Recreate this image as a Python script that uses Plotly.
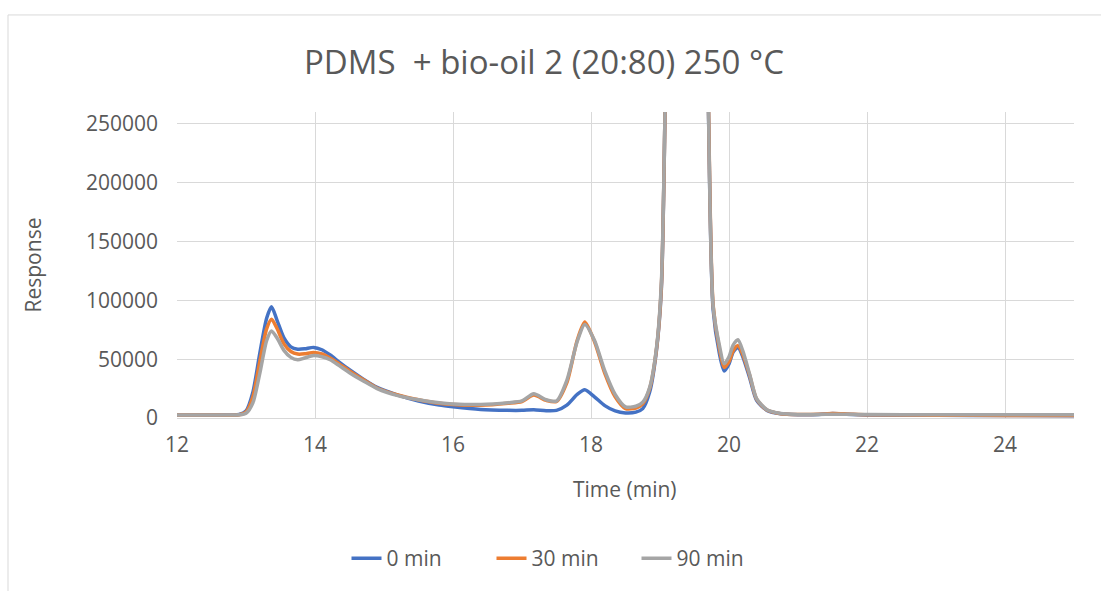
import plotly.graph_objects as go

time_min = [12.0, 12.5, 12.9, 13.0, 13.1, 13.2, 13.3, 13.37, 13.45, 13.55, 13.65, 13.75, 13.85,
            13.98, 14.1, 14.22, 14.35, 14.5, 14.7, 14.9, 15.2, 15.5, 15.8, 16.0, 16.4, 16.8,
            17.0, 17.17, 17.35, 17.5, 17.65, 17.8, 17.91, 18.05, 18.2, 18.35, 18.5, 18.65,
            18.75, 18.85, 18.95, 19.02, 19.07, 19.15, 19.3, 19.45, 19.6, 19.7, 19.77, 19.86,
            19.93, 20.0, 20.06, 20.13, 20.2, 20.3, 20.4, 20.55, 20.75, 21.0, 21.3, 21.5, 21.7,
            22.0, 23.0, 24.0, 25.0]

resp_0min = [2500, 2500, 3000, 6000, 22000, 55000, 85000, 94500, 83000, 68000, 60500, 58500, 58800,
             60000, 58000, 53500, 47500, 41000, 33000, 26000, 19500, 14500, 11000, 9500, 7200, 6500,
             6500, 7000, 6200, 6500, 11000, 20000, 23900, 18000, 10500, 6000, 4300, 5000,
             8000, 22000, 58000, 110000, 250000, 600000, 1000000, 1100000, 700000, 270000, 92000, 55000,
             40000, 46000, 56000, 60000, 52000, 34000, 15000, 6500, 3600, 2800, 2900, 3800, 3200,
             2600, 2300, 2100, 2000]

resp_30min = [2500, 2500, 2800, 5000, 18000, 48000, 76000, 84000, 76000, 63000, 56500, 54300, 54500,
              55700, 54500, 51000, 46000, 40000, 32500, 25500, 19500, 15500, 12500, 11500, 10800, 12500,
              14000, 19500, 15000, 14000, 30000, 66000, 81500, 65000, 38000, 18000, 8000, 8500,
              12000, 25000, 59000, 112000, 250000, 600000, 1000000, 1100000, 700000, 275000, 96000, 59000,
              43000, 48000, 57000, 61500, 54000, 36000, 16000, 6800, 3700, 3000, 3200, 3800, 3500,
              2800, 2400, 2200, 2100]

resp_90min = [2600, 2600, 2700, 4000, 13000, 38000, 66000, 74000, 68000, 57500, 51500, 49500, 51000,
              53000, 52000, 49500, 44500, 38500, 31500, 25000, 19000, 15500, 13000, 12000, 11500, 13000,
              14500, 20500, 15500, 14500, 32000, 65000, 79500, 66000, 40000, 20000, 9500, 10000,
              13500, 26000, 60000, 115000, 250000, 600000, 1000000, 1100000, 700000, 270000, 95000, 62000,
              46000, 52000, 62000, 66500, 57000, 37000, 16500, 7000, 3800, 3000, 3000, 3200, 3100,
              2900, 2700, 2700, 2800]

series_names = ["0 min", "30 min", "90 min"]
series_colors = ["#4472C4", "#ED7D31", "#A5A5A5"]
x_ticks = [12, 14, 16, 18, 20, 22, 24]
y_ticks = [0, 50000, 100000, 150000, 200000, 250000]

FONT = "Open Sans"
TXT = "#595959"

fig = go.Figure()
for name, vals, col in zip(series_names, [resp_0min, resp_30min, resp_90min], series_colors):
    fig.add_trace(go.Scatter(x=time_min, y=vals, name=name, mode="lines",
                             line=dict(color=col, width=3.5, shape="spline", smoothing=0.7)))

L, R, T, B = 177, 1074, 112, 421
W, H = 1101, 591
pw, ph = R - L, B - T

fig.update_layout(
    width=W, height=H,
    margin=dict(l=L, r=W - R, t=T, b=H - B),
    paper_bgcolor="white", plot_bgcolor="white",
    font=dict(family=FONT, color=TXT, size=21),
    title=dict(text="PDMS  + bio-oil 2 (20:80) 250 °C", x=544 / W, xanchor="center",
               y=1 - 62 / H, yanchor="middle", font=dict(size=33, color=TXT, family=FONT)),
    showlegend=True,
    legend=dict(orientation="h", x=(564 - L) / pw, xanchor="center",
                y=(B - 563) / ph, yanchor="middle", font=dict(size=21, color=TXT),
                entrywidth=100, entrywidthmode="pixels",
                traceorder="normal", bgcolor="rgba(0,0,0,0)"),
    xaxis=dict(range=[12, 25], tickvals=x_ticks, showgrid=True, gridcolor="#d9d9d9", gridwidth=1,
               showline=True, linecolor="#d9d9d9", linewidth=1, zeroline=False,
               ticks="", tickfont=dict(size=21, color=TXT), ticklabelstandoff=8),
    yaxis=dict(range=[0, 260000], tickvals=y_ticks, tickformat="d", showgrid=True,
               gridcolor="#d9d9d9", gridwidth=1,
               zeroline=False, ticks="", tickfont=dict(size=21, color=TXT),
               ticklabelstandoff=18),
    annotations=[
        dict(text="Response", xref="paper", yref="paper", x=(33 - L) / pw, y=(B - 267) / ph,
             xanchor="center", yanchor="middle", textangle=-90, showarrow=False,
             font=dict(size=21, color=TXT)),
        dict(text="Time (min)", xref="paper", yref="paper", x=(625 - L) / pw, y=(B - 493) / ph,
             xanchor="center", yanchor="middle", showarrow=False,
             font=dict(size=21, color=TXT)),
    ],
    shapes=[dict(type="rect", xref="paper", yref="paper", x0=(8 - L) / pw, x1=1.2,
                 y0=-0.7, y1=(B - 14) / ph, line=dict(color="#d9d9d9", width=1),
                 fillcolor="rgba(0,0,0,0)", layer="below")],
)

fig.write_html("out.html")
